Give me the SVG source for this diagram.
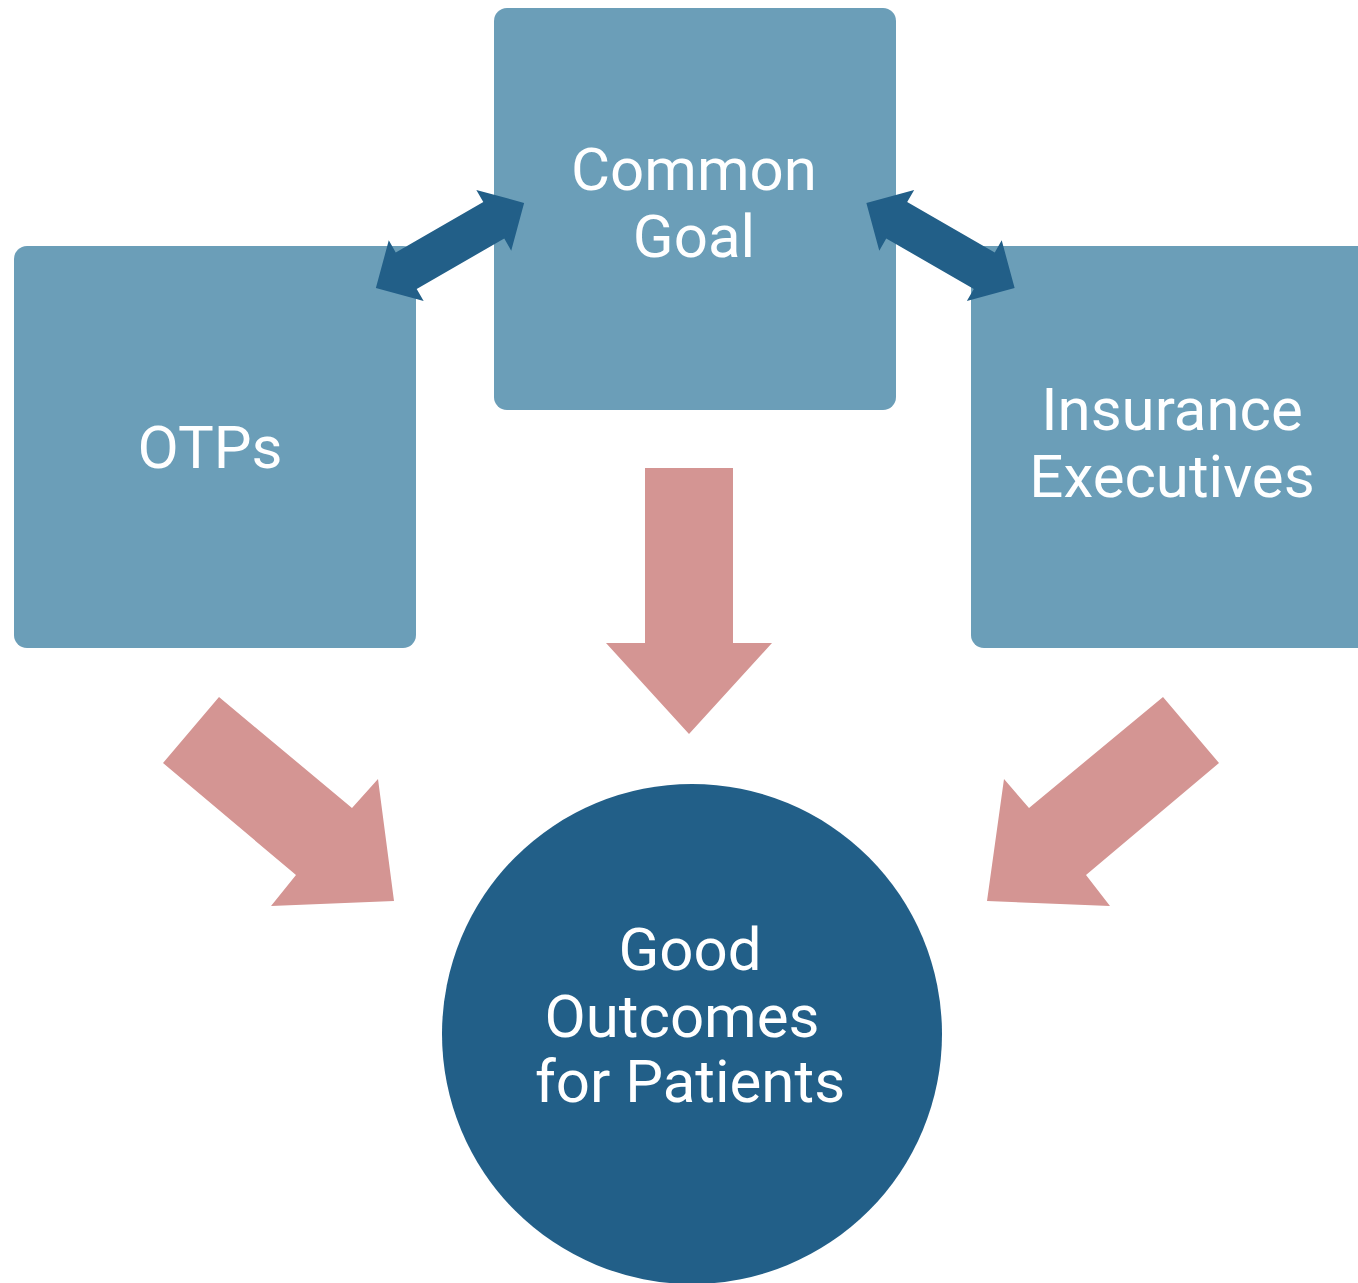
<svg xmlns="http://www.w3.org/2000/svg" width="1358" height="1283" viewBox="0 0 1358 1283">
  <style>
    .box { fill: #6B9EB8; }
    .hub { fill: #225F88; }
    .link { fill: #225F88; }
    .flow { fill: #D49593; }
    .label { font-family: Roboto, "Liberation Sans", sans-serif; font-size: 60px; fill: #FFFFFF; text-anchor: middle; }
  </style>
  <defs>
    <!-- double-headed arrow, centred on the origin, pointing along x -->
    <polygon id="dbl" points="-85.5,0 -50.5,-35 -50.5,-21 50.5,-21 50.5,-35 85.5,0 50.5,35 50.5,21 -50.5,21 -50.5,35"/>
  </defs>
  <rect width="1358" height="1283" fill="#FFFFFF"/>

  <g id="otps">
    <rect class="box" x="14" y="246" width="402" height="402" rx="13"/>
    <text class="label" x="210" y="468">OTPs</text>
  </g>

  <g id="common-goal">
    <rect class="box" x="494" y="8" width="402" height="402" rx="13"/>
    <text class="label" x="694" y="190">Common</text>
    <text class="label" x="694" y="257">Goal</text>
  </g>

  <g id="insurance-executives">
    <rect class="box" x="971" y="246" width="402" height="402" rx="13"/>
    <text class="label" x="1172" y="430">Insurance</text>
    <text class="label" x="1172" y="497">Executives</text>
  </g>

  <g id="connectors">
    <use href="#dbl" class="link" transform="translate(450 245.5) rotate(-29.9)"/>
    <use href="#dbl" class="link" transform="translate(940.5 245.5) rotate(29.9)"/>
    <polygon class="flow" points="645,468 733,468 733,643 772,643 689,734 606,643 645,643"/>
    <polygon class="flow" points="219,697 352,808 378,779 394,901 271,906 296,875 163,763"/>
    <polygon class="flow" points="1163,697 1029,808 1004,779 987,901 1110,906 1086,875 1219,763"/>
  </g>

  <g id="good-outcomes">
    <circle class="hub" cx="692" cy="1034" r="250"/>
    <text class="label" x="690" y="970">Good</text>
    <text class="label" x="682" y="1037">Outcomes</text>
    <text class="label" x="690" y="1102">for Patients</text>
  </g>
</svg>
